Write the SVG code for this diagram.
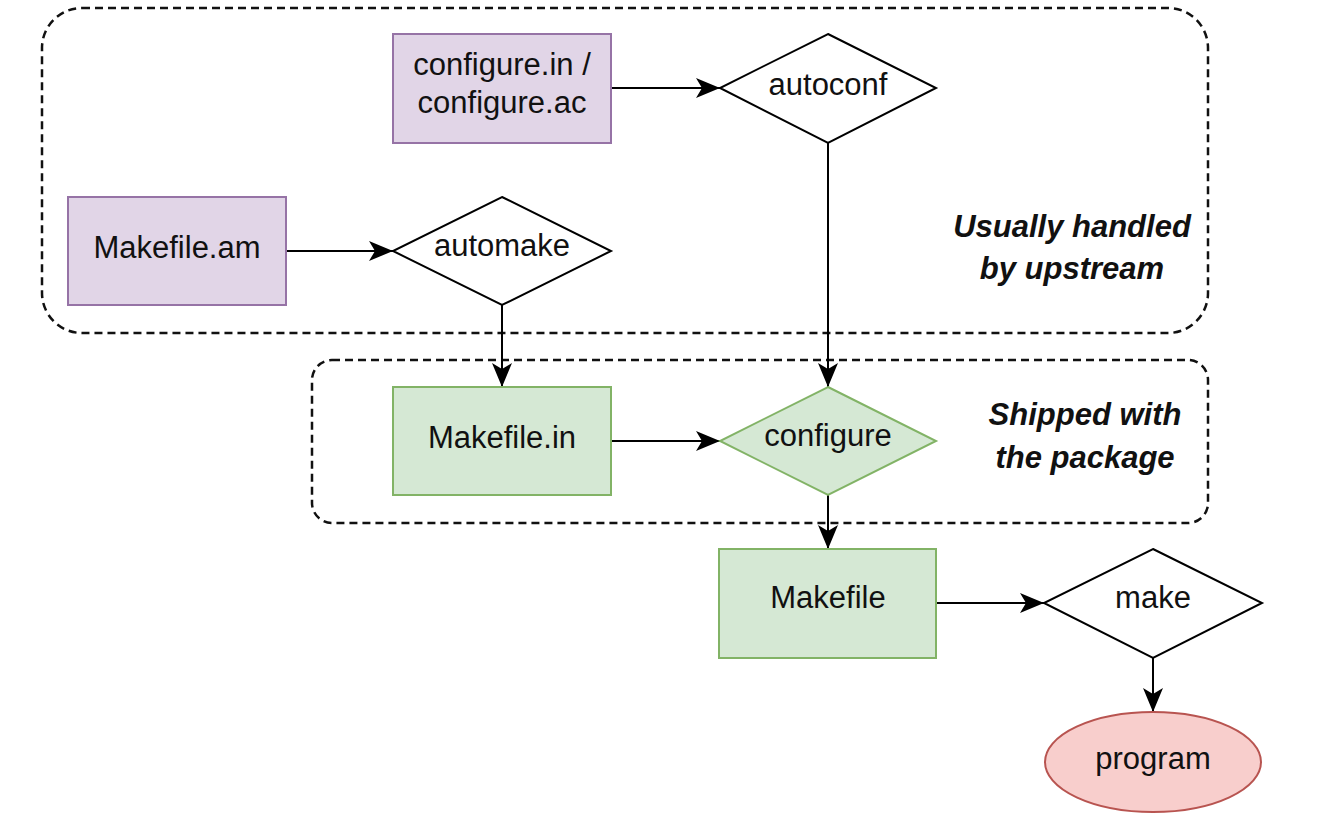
<svg xmlns="http://www.w3.org/2000/svg" width="1320" height="840" viewBox="0 0 1320 840">
<style>
text{font-family:"Liberation Sans",Arial,sans-serif;font-size:31px;fill:#111;text-anchor:middle}
.note{font-weight:bold;font-style:italic;font-size:31px}
.grp{fill:none;stroke:#111;stroke-width:2.5;stroke-dasharray:8 5}
.purple{fill:#e1d5e7;stroke:#9673a6;stroke-width:2}
.green{fill:#d5e8d4;stroke:#82b366;stroke-width:2}
.red{fill:#f8cecc;stroke:#b85450;stroke-width:2}
.plain{fill:#fff;stroke:#000;stroke-width:2}
.edge{fill:none;stroke:#000;stroke-width:2;marker-end:url(#arr)}
</style>
<defs>
<marker id="arr" viewBox="0 0 24 20" refX="24" refY="10" markerWidth="24" markerHeight="20" markerUnits="userSpaceOnUse" orient="auto">
<path d="M0,0 L24,10 L0,20 L6,10 Z" fill="#000"/>
</marker>
</defs>
<rect width="1320" height="840" fill="#fff"/>
<g id="group-upstream">
<rect class="grp" x="42" y="8" width="1166" height="325" rx="40"/>
<text class="note" x="1072" y="237">Usually handled</text>
<text class="note" x="1072" y="279">by upstream</text>
</g>
<g id="group-shipped">
<rect class="grp" x="312" y="360" width="896" height="163" rx="20"/>
<text class="note" x="1085" y="425">Shipped with</text>
<text class="note" x="1085" y="468">the package</text>
</g>
<g id="connectors">
<path class="edge" d="M611,88 L720,88"/>
<path class="edge" d="M286,251 L393,251"/>
<path class="edge" d="M502,305 L502,387"/>
<path class="edge" d="M828,143 L828,387"/>
<path class="edge" d="M611,441 L720,441"/>
<path class="edge" d="M828,495 L828,549"/>
<path class="edge" d="M936,603 L1044,603"/>
<path class="edge" d="M1153,658 L1153,712"/>
</g>
<g id="configure-in">
<rect class="purple" x="393" y="34" width="218" height="109"/>
<text x="502" y="75">configure.in /</text>
<text x="502" y="113">configure.ac</text>
</g>
<g id="autoconf">
<polygon class="plain" points="828,34 936,88 828,143 720,88"/>
<text x="828" y="95">autoconf</text>
</g>
<g id="makefile-am">
<rect class="purple" x="68" y="197" width="218" height="108"/>
<text x="177" y="258">Makefile.am</text>
</g>
<g id="automake">
<polygon class="plain" points="502,197 611,251 502,305 393,251"/>
<text x="502" y="256">automake</text>
</g>
<g id="makefile-in">
<rect class="green" x="393" y="387" width="218" height="108"/>
<text x="502" y="448">Makefile.in</text>
</g>
<g id="configure">
<polygon class="green" points="828,387 936,441 828,495 720,441"/>
<text x="828" y="446">configure</text>
</g>
<g id="makefile">
<rect class="green" x="719" y="549" width="217" height="109"/>
<text x="828" y="608">Makefile</text>
</g>
<g id="make">
<polygon class="plain" points="1153,549 1262,603 1153,658 1044,603"/>
<text x="1153" y="608">make</text>
</g>
<g id="program">
<ellipse class="red" cx="1153" cy="762" rx="108" ry="50"/>
<text x="1153" y="769">program</text>
</g>
</svg>
